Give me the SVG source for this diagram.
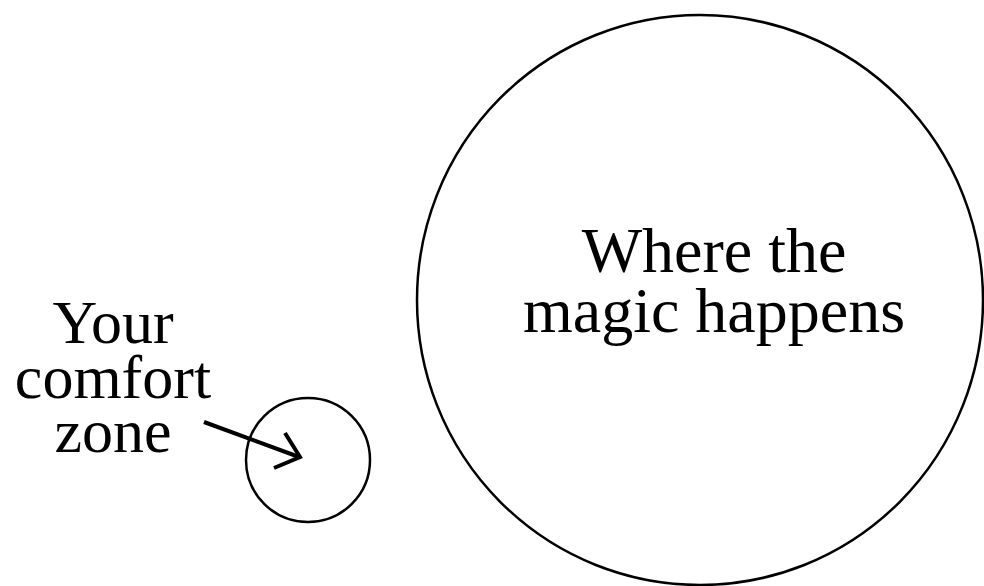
<svg xmlns="http://www.w3.org/2000/svg" width="984" height="586" viewBox="0 0 984 586">
<style>
.ring{fill:none;stroke:#000;stroke-width:2.5}
.lbl{font-family:"Liberation Serif","Times New Roman",serif;fill:#000;text-anchor:middle}
.conn{fill:none;stroke:#000;stroke-width:4;stroke-linecap:butt;stroke-linejoin:miter}
</style>
<rect width="984" height="586" fill="#fff"/>
<g id="magic">
<ellipse class="ring" cx="700" cy="300" rx="283" ry="285"/>
<text class="lbl" font-size="64"><tspan x="714" y="272">Where the</tspan><tspan x="714" y="332">magic happens</tspan></text>
</g>
<g id="comfort">
<circle class="ring" cx="308" cy="460" r="62"/>
</g>
<g id="comfort-label">
<text class="lbl" font-size="62"><tspan x="113" y="343">Your</tspan><tspan x="113" y="398">comfort</tspan><tspan x="113" y="452">zone</tspan></text>
</g>
<g id="connectors">
<line class="conn" x1="204" y1="422" x2="299" y2="457"/>
<polyline class="conn" points="285,433 300,457 274,468"/>
</g>
</svg>
